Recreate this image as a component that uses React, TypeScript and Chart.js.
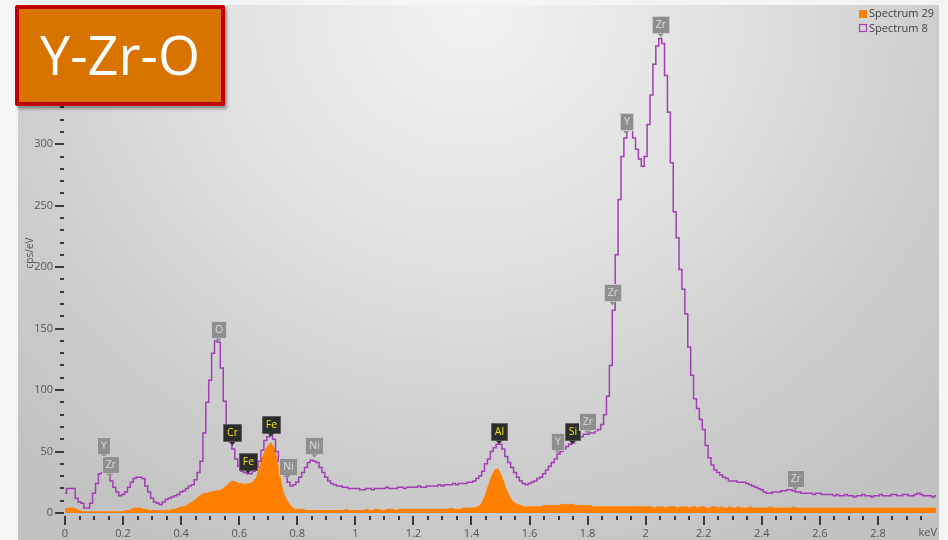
import React, { useEffect, useRef } from 'react';
import { Chart, registerables } from 'chart.js';

Chart.register(...registerables);

// Energy channel width (keV); channel i is centred at i * ENERGY_STEP_KEV
const ENERGY_STEP_KEV = 0.01;

const seriesNames = ['Spectrum 29', 'Spectrum 8'];
const titleText = 'Y-Zr-O';
const xAxisUnit = 'keV';
const yAxisTitle = 'cps/eV';

// Spectrum 8 (purple line), cps/eV, channels 0.00 .. 3.00 keV
const spectrum8 = [
  16, 20, 20, 20, 12, 9, 8, 4, 4, 8,
  16, 24, 32, 33, 33, 32, 26, 21, 17, 14,
  15, 17, 21, 25, 28, 29, 29, 28, 22, 17,
  12, 9, 8, 7, 9, 11, 12, 13, 14, 15,
  17, 18, 20, 22, 23, 27, 33, 42, 65, 90,
  108, 130, 140, 139, 118, 91, 70, 58, 52, 44,
  38, 34, 33, 32, 32, 34, 37, 42, 51, 59,
  62, 64, 60, 50, 42, 35, 30, 25, 22, 23,
  25, 29, 33, 37, 41, 43, 42, 41, 37, 33,
  29, 26, 24, 23, 22, 22, 21, 21, 20, 20,
  20, 20, 19, 19, 20, 20, 19, 20, 20, 20,
  20, 21, 20, 20, 20, 21, 21, 20, 21, 21,
  21, 21, 22, 21, 21, 22, 22, 22, 22, 23,
  22, 23, 23, 23, 24, 23, 24, 24, 24, 25,
  25, 26, 28, 30, 34, 40, 44, 50, 53, 56,
  56, 52, 46, 41, 37, 33, 29, 26, 24, 23,
  24, 25, 26, 28, 29, 32, 35, 38, 41, 44,
  48, 50, 52, 54, 56, 57, 59, 61, 62, 64,
  64, 65, 65, 67, 68, 72, 80, 95, 120, 165,
  210, 255, 290, 305, 316, 314, 305, 296, 288, 282,
  290, 316, 340, 365, 380, 386, 382, 356, 326, 285,
  245, 224, 198, 182, 162, 135, 112, 93, 85, 76,
  68, 55, 45, 39, 35, 33, 31, 29, 28, 26,
  26, 26, 25, 25, 25, 24, 23, 22, 21, 20,
  19, 17, 16, 16, 17, 17, 17, 18, 18, 19,
  19, 18, 17, 17, 16, 16, 16, 16, 15, 16,
  16, 15, 15, 15, 15, 14, 15, 14, 14, 15,
  14, 14, 13, 14, 14, 15, 14, 14, 13, 14,
  14, 15, 14, 14, 14, 15, 15, 14, 14, 15,
  15, 14, 14, 15, 16, 15, 14, 14, 14, 13, 14,
];

// Spectrum 29 (orange filled), cps/eV, channels 0.00 .. 3.00 keV
const spectrum29 = [
  3, 4, 4, 4, 3, 2, 1, 1, 1, 1,
  1, 1, 1, 1, 1, 1, 1, 1, 1, 1,
  1, 2, 2, 3, 4, 4, 4, 3, 3, 2,
  2, 2, 2, 2, 2, 2, 2, 3, 3, 4,
  5, 5, 6, 8, 9, 11, 13, 15, 16, 16,
  17, 17, 18, 18, 19, 21, 23, 25, 26, 25,
  24, 24, 23, 24, 24, 26, 29, 37, 45, 51,
  55, 57, 53, 43, 30, 18, 12, 8, 5, 3,
  3, 3, 3, 2, 2, 2, 2, 2, 2, 2,
  2, 2, 2, 2, 2, 2, 2, 3, 2, 2,
  2, 2, 2, 2, 3, 2, 2, 3, 3, 2,
  2, 3, 3, 3, 2, 3, 3, 3, 3, 3,
  3, 3, 3, 3, 3, 3, 3, 3, 3, 3,
  3, 3, 3, 4, 3, 3, 3, 4, 4, 4,
  4, 4, 5, 6, 10, 16, 23, 30, 35, 36,
  32, 26, 19, 14, 10, 8, 7, 6, 5, 5,
  5, 5, 5, 5, 5, 6, 6, 6, 6, 6,
  6, 7, 7, 7, 7, 7, 6, 6, 6, 6,
  6, 6, 5, 5, 5, 5, 5, 5, 5, 5,
  5, 5, 5, 5, 5, 5, 5, 5, 5, 5,
  5, 5, 5, 4, 5, 5, 5, 4, 5, 5,
  5, 4, 5, 5, 5, 4, 5, 5, 4, 5,
  5, 4, 4, 5, 5, 4, 5, 4, 4, 5,
  4, 4, 5, 4, 4, 4, 5, 4, 4, 4,
  4, 4, 4, 5, 4, 4, 4, 4, 4, 4,
  4, 5, 4, 4, 4, 4, 4, 4, 4, 4,
  4, 4, 4, 4, 4, 4, 4, 4, 4, 4,
  4, 4, 4, 4, 4, 4, 4, 4, 4, 4,
  4, 4, 4, 4, 4, 4, 4, 4, 4, 4,
  4, 4, 4, 4, 4, 4, 4, 4, 4, 4, 4,
];

// Peak identification markers
const peakNames = ['Y', 'Zr', 'O', 'Cr', 'Fe', 'Fe', 'Ni', 'Ni', 'Al', 'Y', 'Si', 'Zr', 'Zr', 'Y', 'Zr', 'Zr'];
const peakEnergies = [0.134, 0.155, 0.529, 0.576, 0.631, 0.709, 0.767, 0.859, 1.495, 1.697, 1.747, 1.8, 1.886, 1.933, 2.052, 2.516];
const peakTips = [45, 29, 139, 55, 32, 62, 28, 45, 56, 48, 56, 64, 169, 308, 387, 18];
const peakDark = [false, false, false, true, true, true, false, false, true, false, true, false, false, false, false, false];

const xTickStep = 0.2;
const xMinorStep = 0.05;
const yTickStep = 50;
const yMinorStep = 10;
const xMax = 3.0;
const yMax = 410;

const FONT = '"Open Sans", "Noto Sans", sans-serif';
const ORANGE = '#ff8000';
const PURPLE = '#a23eb4';

export default function App() {
  const ref = useRef<HTMLCanvasElement | null>(null);

  useEffect(() => {
    if (!ref.current) return;
    const energies = spectrum8.map((_, i) => +(i * ENERGY_STEP_KEV).toFixed(2));
    const pts = (arr: number[]) => arr.map((v, i) => ({ x: energies[i], y: v }));

    const edsPlugin = {
      id: 'edsDecor',
      beforeDraw(chart: any) {
        const { ctx, width, height } = chart;
        ctx.save();
        ctx.fillStyle = '#f4f4f4';
        ctx.fillRect(0, 0, width, height);
        const cx = 470, cy = 10;
        ctx.translate(cx, cy);
        ctx.scale(1, 0.95);
        const g = ctx.createRadialGradient(0, 0, 0, 0, 0, 640);
        g.addColorStop(0, '#f2f2f2');
        g.addColorStop(0.4, '#e1e1e1');
        g.addColorStop(0.75, '#cdcdcd');
        g.addColorStop(1, '#c2c2c2');
        ctx.fillStyle = g;
        ctx.fillRect(18 - cx, (5 - cy) / 0.95, 921, 535 / 0.95);
        ctx.restore();
      },
      afterDraw(chart: any) {
        const { ctx, chartArea } = chart;
        const xs = chart.scales.x;
        const ys = chart.scales.y;
        ctx.save();
        // tick marks
        ctx.fillStyle = '#3a3a3a';
        const nY = Math.round(yMax / yMinorStep);
        const perMajorY = Math.round(yTickStep / yMinorStep);
        for (let k = 0; k <= nY; k++) {
          const py = Math.round(ys.getPixelForValue(k * yMinorStep));
          if (k % perMajorY === 0) ctx.fillRect(chartArea.left - 10, py - 1, 9, 2);
          else ctx.fillRect(chartArea.left - 5, py - 1, 4, 2);
        }
        const nX = Math.round(xMax / xMinorStep);
        const perMajorX = Math.round(xTickStep / xMinorStep);
        for (let k = 0; k < nX; k++) {
          const px = Math.round(xs.getPixelForValue(k * xMinorStep));
          const major = k % perMajorX === 0;
          ctx.fillRect(px - 1, chartArea.bottom + 3, 2, major ? 9 : 4);
        }
        // unit label
        ctx.fillStyle = '#555';
        ctx.font = `11px ${FONT}`;
        ctx.textAlign = 'right';
        ctx.textBaseline = 'middle';
        ctx.fillText(xAxisUnit, xs.getPixelForValue(xMax) + 1, chartArea.bottom + 20);
        // y title
        ctx.save();
        ctx.translate(30, 253);
        ctx.rotate(-Math.PI / 2);
        ctx.textAlign = 'center';
        ctx.font = `10px ${FONT}`;
        ctx.fillText(yAxisTitle, 0, 0);
        ctx.restore();
        // legend
        ctx.font = `11px ${FONT}`;
        ctx.textAlign = 'left';
        ctx.fillStyle = ORANGE;
        ctx.fillRect(859, 10, 8, 8);
        ctx.strokeStyle = PURPLE;
        ctx.lineWidth = 1.2;
        ctx.strokeRect(859.5, 24.5, 7, 7);
        ctx.fillStyle = '#404040';
        ctx.fillText(seriesNames[0], 869, 14);
        ctx.fillText(seriesNames[1], 869, 28.5);
        // peak markers
        ctx.font = `10.5px ${FONT}`;
        for (let i = 0; i < peakNames.length; i++) {
          const px = xs.getPixelForValue(peakEnergies[i]);
          const tip = ys.getPixelForValue(peakTips[i]);
          const name = peakNames[i];
          const dark = peakDark[i];
          const w = Math.max(12, Math.round(ctx.measureText(name).width) + 7);
          const h = 17;
          const bottom = tip - 4;
          const top = bottom - h;
          const left = Math.round(px - w / 2);
          ctx.fillStyle = dark ? '#2c2c2c' : '#8f8f8f';
          ctx.strokeStyle = dark ? '#606060' : '#c9c9c9';
          ctx.lineWidth = 1;
          ctx.beginPath();
          ctx.rect(left + 0.5, Math.round(top) + 0.5, w, h);
          ctx.fill();
          ctx.stroke();
          ctx.beginPath();
          ctx.moveTo(px - 3, bottom + 0.5);
          ctx.lineTo(px + 3, bottom + 0.5);
          ctx.lineTo(px, tip);
          ctx.closePath();
          ctx.fillStyle = dark ? '#2c2c2c' : '#8f8f8f';
          ctx.fill();
          ctx.fillStyle = dark ? '#f0e400' : '#dcdcdc';
          ctx.textAlign = 'center';
          ctx.textBaseline = 'middle';
          ctx.fillText(name, left + w / 2 + 0.5, Math.round(top) + h / 2 + 1);
        }
        ctx.restore();
      },
    };

    const chart = new Chart(ref.current, {
      type: 'line',
      data: {
        datasets: [
          {
            label: seriesNames[0],
            data: pts(spectrum29),
            stepped: false,
            tension: 0,
            fill: 'origin',
            backgroundColor: ORANGE,
            borderColor: ORANGE,
            borderWidth: 1,
            pointRadius: 0,
            order: 2,
          },
          {
            label: seriesNames[1],
            data: pts(spectrum8),
            stepped: 'middle',
            fill: false,
            borderColor: PURPLE,
            borderWidth: 1.5,
            pointRadius: 0,
            order: 1,
          },
        ],
      },
      options: {
        responsive: false,
        animation: false,
        events: [],
        layout: { padding: { top: 9, right: 12, left: 0, bottom: 0 } },
        plugins: { legend: { display: false }, tooltip: { enabled: false } },
        scales: {
          x: {
            type: 'linear',
            min: 0,
            max: xMax,
            grid: { display: false, drawTicks: false },
            border: { display: false },
            afterFit: (s: any) => {
              s.height = 27;
              s.paddingLeft = 0;
              s.paddingRight = 0;
            },
            ticks: {
              stepSize: xTickStep,
              autoSkip: false,
              maxRotation: 0,
              padding: 14,
              color: '#555',
              font: { family: FONT, size: 11 },
              callback: (v: any) => {
                const n = Number(v);
                if (Math.abs(n - xMax) < 1e-6) return '';
                if (Math.abs(n - Math.round(n)) < 1e-6) return String(Math.round(n));
                return n.toFixed(1);
              },
            },
          },
          y: {
            min: 0,
            max: yMax,
            grid: { display: false, drawTicks: false },
            border: { display: false },
            afterBuildTicks: (s: any) => {
              s.ticks = s.ticks.filter((t: any) => Math.abs(t.value % yTickStep) < 1e-6);
            },
            afterFit: (s: any) => {
              s.width = 65;
              s.paddingTop = 0;
              s.paddingBottom = 0;
            },
            ticks: {
              stepSize: yTickStep,
              padding: 12,
              color: '#555',
              font: { family: FONT, size: 11 },
            },
          },
        },
      },
      plugins: [edsPlugin],
    } as any);
    return () => chart.destroy();
  }, []);

  return (
    <div style={{ position: 'fixed', left: 0, top: 0, width: 948, height: 540, overflow: 'hidden' }}>
      <canvas ref={ref} width={948} height={540} style={{ position: 'absolute', left: 0, top: 0, width: 948, height: 540 }} />
      <div
        style={{
          position: 'absolute',
          left: 15,
          top: 5,
          width: 210,
          height: 101,
          boxSizing: 'border-box',
          border: '4px solid #c00000',
          borderRadius: 2,
          background: '#d97300',
          boxShadow: '2px 3px 3px rgba(0,0,0,0.35)',
          color: '#ffffff',
          fontFamily: FONT,
          fontSize: 54,
          lineHeight: '91px',
          textAlign: 'center',
          whiteSpace: 'nowrap',
        }}
      >
        {titleText}
      </div>
    </div>
  );
}
